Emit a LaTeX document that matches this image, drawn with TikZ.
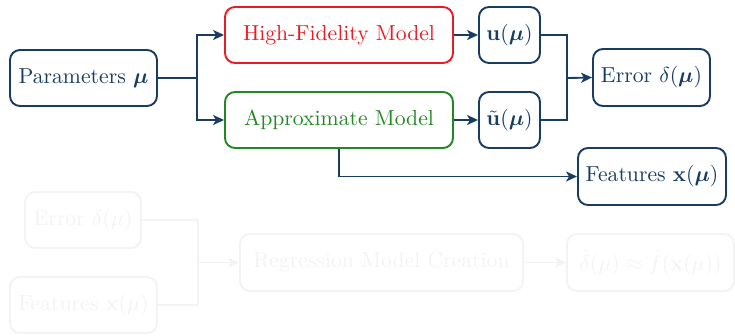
\documentclass[tikz,border=0pt]{standalone}
\usepackage{amsmath,bm}
\usetikzlibrary{arrows.meta}
\definecolor{navy}{RGB}{24,60,98}
\definecolor{hfred}{RGB}{232,28,36}
\definecolor{apgreen}{RGB}{34,136,34}
\definecolor{faded}{RGB}{243,243,243}
\newcommand\pxu{0.461pt}
\tikzset{
  box/.style={draw=navy, text=navy, line width=1.9*\pxu, rounded corners=10*\pxu,
    inner sep=0pt, minimum height=56*\pxu, align=center},
  fbox/.style={box, draw=faded, text=faded},
  conn/.style={draw=navy, line width=1.9*\pxu},
  arr/.style={conn, -{Stealth[length=11*\pxu,width=10*\pxu,inset=3*\pxu]}},
  fconn/.style={conn, draw=faded},
  farr/.style={arr, draw=faded, fill=faded},
}
\begin{document}
\begin{tikzpicture}[x=0.461pt,y=-0.461pt]
\useasboundingbox (0,0) rectangle (735,335);
% main flow
\node[box, minimum width=147*\pxu] (P) at (83.5,78) {Parameters $\bm{\mu}$};
\node[box, draw=hfred, text=hfred, minimum width=228*\pxu] (HF) at (339,35) {High-Fidelity Model};
\node[box, draw=apgreen, text=apgreen, minimum width=228*\pxu] (AM) at (339,120) {Approximate Model};
\node[box, minimum width=61*\pxu] (U) at (509.5,35) {$\mathbf{u}(\bm{\mu})$};
\node[box, minimum width=61*\pxu] (UT) at (509.5,120) {$\tilde{\mathbf{u}}(\bm{\mu})$};
\node[box, minimum width=117*\pxu, minimum height=57*\pxu] (E) at (651.5,77.5) {Error $\delta(\bm{\mu})$};
\node[box, minimum width=148*\pxu, minimum height=57*\pxu] (F) at (652,176.5) {Features $\mathbf{x}(\bm{\mu})$};
\coordinate (s) at (197,78);
\coordinate (m) at (567,78);
\draw[conn] (P.east) -- (s);
\draw[arr] (s) |- (HF.west);
\draw[arr] (s) |- (AM.west);
\draw[arr] (HF.east) -- (U.west);
\draw[arr] (AM.east) -- (UT.west);
\draw[conn] (U.east) -| (m);
\draw[conn] (UT.east) -| (m);
\draw[arr] (m) -- (E.west);
\draw[arr] (AM.south) |- (F.west);
% faded flow
\node[fbox, minimum width=116*\pxu] (FE) at (83,220) {Error $\delta(\mu)$};
\node[fbox, minimum width=147*\pxu] (FF) at (83.5,305) {Features $\mathbf{x}(\mu)$};
\node[fbox, minimum width=283*\pxu, minimum height=57*\pxu] (R) at (381.5,262.5) {Regression Model Creation};
\node[fbox, minimum width=167*\pxu, minimum height=57*\pxu] (RES) at (650.5,262.5) {$\hat{\delta}(\mu)\approx\hat{f}(\mathbf{x}(\mu))$};
\coordinate (m2) at (198,262.5);
\draw[fconn] (FE.east) -| (m2);
\draw[fconn] (FF.east) -| (m2);
\draw[farr] (m2) -- (R.west);
\draw[farr] (R.east) -- (RES.west);
\end{tikzpicture}
\end{document}
